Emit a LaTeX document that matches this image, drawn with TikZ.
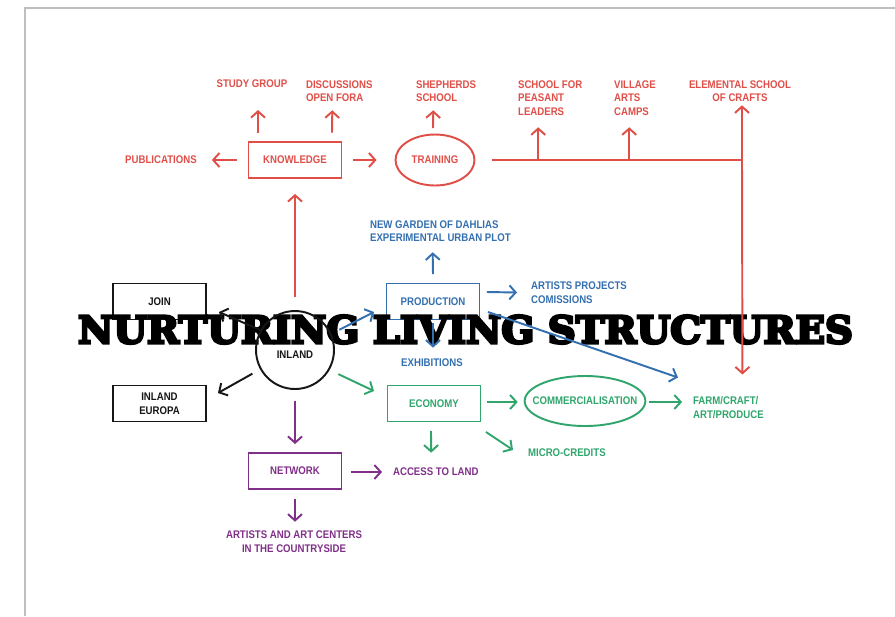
\documentclass[tikz,border=0pt]{standalone}
\usepackage{fontspec}
\usepackage{graphicx}
\setmainfont{Liberation Sans}[FakeStretch=0.87]
\newfontfamily\bannerfont{DejaVu Serif Bold}[FakeBold=7]
\usetikzlibrary{shapes.geometric, arrows.meta, calc}

\definecolor{redline}{RGB}{224,78,72}
\definecolor{blueline}{RGB}{52,112,176}
\definecolor{greenline}{RGB}{48,166,108}
\definecolor{purpleline}{RGB}{128,48,136}
\definecolor{inkline}{RGB}{22,22,22}
\definecolor{pagegray}{RGB}{190,190,190}

\begin{document}
\begin{tikzpicture}[x=0.02cm, y=-0.02cm,
    every node/.style={font=\bfseries\fontsize{6.3}{7.7}\selectfont, inner sep=1pt},
    box/.style={rectangle, draw, line width=1.1pt, minimum width=1.86cm, minimum height=0.72cm},
    oval/.style={ellipse, draw, line width=1.1pt},
    arr/.style={-{Straight Barb[length=3.6pt, width=8pt]}, line width=1.1pt}]
    \useasboundingbox (0,0) rectangle (895,616);
    \fill[white] (0,0) rectangle (895,616);
    % page edge
    \draw[pagegray, line width=1pt] (25,616) -- (25,8) -- (895,8);

    % knowledge / training
    \begin{scope}[redline]
        \node[box] (know) at (295,160) {KNOWLEDGE};
        \node (pub) at (161,160) {PUBLICATIONS};
        \node (study) at (252,84) {STUDY GROUP};
        \node[align=left, anchor=west] (disc) at (304,91) {DISCUSSIONS\\OPEN FORA};
        \node[oval, minimum width=1.58cm, minimum height=1.02cm, inner sep=0pt] (train) at (435,160) {TRAINING};
        \node[align=left, anchor=west] (shep) at (414,91) {SHEPHERDS\\SCHOOL};
        \node[align=left, anchor=west] (peasant) at (516,98) {SCHOOL FOR\\PEASANT\\LEADERS};
        \node[align=left, anchor=west] (village) at (612,98) {VILLAGE\\ARTS\\CAMPS};
        \node[align=center] (crafts) at (740,91) {ELEMENTAL SCHOOL\\OF CRAFTS};
        \coordinate (fork) at (742,160);
    \end{scope}

    % production
    \begin{scope}[blueline]
        \node[box] (prod) at (433,301.5) {PRODUCTION};
        \node[align=left, anchor=west] (garden) at (368,231) {NEW GARDEN OF DAHLIAS\\EXPERIMENTAL URBAN PLOT};
        \node[align=left, anchor=west] (artists) at (529,292.5) {ARTISTS PROJECTS\\COMISSIONS};
        \node (exhib) at (432,363) {EXHIBITIONS};
    \end{scope}

    % economy
    \begin{scope}[greenline]
        \node[box] (econ) at (434,403.5) {ECONOMY};
        \node[oval, minimum height=1cm, inner xsep=-5.5pt] (comm) at (585,401) {COMMERCIALISATION};
        \node[align=left, anchor=west] (farm) at (691,407.5) {FARM/CRAFT/\\ART/PRODUCE};
        \node[anchor=west] (micro) at (526,453) {MICRO-CREDITS};
    \end{scope}

    % network
    \begin{scope}[purpleline]
        \node[box] (netw) at (295,471) {NETWORK};
        \node[anchor=west] (access) at (391,472) {ACCESS TO LAND};
        \node[align=center] (centers) at (294,541.5) {ARTISTS AND ART CENTERS\\IN THE COUNTRYSIDE};
    \end{scope}

    % inland
    \begin{scope}[inkline]
        \node[box] (join) at (159.5,301.5) {JOIN};
        \node[box, align=center] (europa) at (159.5,403.5) {INLAND\\EUROPA};
    \end{scope}

    \node[inner sep=0pt, font=\bannerfont] (banner) at (465.5,329.5)
        {\resizebox{15.5cm}{0.56cm}{NURTURING LIVING STRUCTURES}};

    \node[circle, draw=inkline, text=inkline, line width=1.1pt, minimum size=1.56cm, inner sep=0pt] (inland) at (295,350) {\raisebox{-2.6pt}[\height][\depth]{INLAND}};

    % red arrows
    \begin{scope}[redline]
        \draw[arr] ($(know.west)+(-11,0)$) -- ($(pub.east)+(13,0)$);
        \draw[arr] ($(know.north)+(-37,-8.5)$) -- ($(study.south)+(6,20)$);
        \draw[arr] ($(know.north)+(37,-8.5)$) -- ($(disc.south)+(-7,6.5)$);
        \draw[arr] ($(know.east)+(11,0)$) -- ($(train.west)+(-18,0)$);
        \draw[arr] ($(train.north)+(-2,-5.5)$) -- ($(shep.south)+(-12.8,6.5)$);
        \draw[line width=1.1pt] ($(train.east)+(17,0)$) -- (fork);
        \draw[arr] ($(peasant.south |- fork)+(-12,0)$) -- ($(peasant.south)+(-12,9.7)$);
        \draw[arr] ($(village.south |- fork)+(-5.7,0)$) -- ($(village.south)+(-5.7,9.7)$);
        \draw[arr] (fork) -- ($(crafts.south)+(2,1.5)$);
        \draw[arr] (fork) -- ($(farm.north)+(14,-20)$);
        \draw[arr] ($(inland.north)+(0,-13)$) -- ($(know.south)+(0,15)$);
    \end{scope}

    % black arrows
    \draw[arr, inkline] (inland.150) -- ($(join.east)+(12,10.5)$);
    \draw[arr, inkline, shorten <=5pt] (inland.209) -- ($(europa.east)+(11,-10.5)$);

    % blue arrows
    \begin{scope}[blueline]
        \draw[arr, shorten <=5pt] (inland.24) -- ($(prod.west)+(-11.5,10.5)$);
        \draw[arr] ($(prod.north)+(0,-8.5)$) -- ($(garden.south)+(-7.7,8.5)$);
        \draw[arr] ($(prod.east)+(6.5,-9.5)$) -- ($(artists.west)+(-12,0)$);
        \draw[arr] ($(prod.south)+(0,3)$) -- ($(exhib.north)+(1,-9.3)$);
        \draw[arr] ($(prod.east)+(7.5,10.5)$) -- ($(farm.north west)+(-13,-17)$);
    \end{scope}

    % green arrows
    \begin{scope}[greenline]
        \draw[arr, shorten <=5.5pt] (inland.-30) -- ($(econ.west)+(-12.5,-12.5)$);
        \draw[arr] ($(econ.east)+(6,-1.5)$) -- ($(comm.west)+(-6,1)$);
        \draw[arr] ($(comm.east)+(3,1)$) -- ($(farm.west)+(-9,-5.5)$);
        \draw[arr] ($(econ.south)+(-3,8.5)$) -- ($(access.north)+(-4.7,-13.3)$);
        \draw[arr] ($(econ.south east)+(4.5,9.5)$) -- ($(micro.west)+(-13,-3)$);
    \end{scope}

    % purple arrows
    \begin{scope}[purpleline]
        \draw[arr] ($(inland.south)+(0,11)$) -- ($(netw.north)+(0,-8)$);
        \draw[arr] ($(netw.east)+(8.5,1)$) -- ($(access.west)+(-9,0)$);
        \draw[arr] ($(netw.south)+(0,9)$) -- ($(centers.north)+(1,-7)$);
    \end{scope}
\end{tikzpicture}
\end{document}
